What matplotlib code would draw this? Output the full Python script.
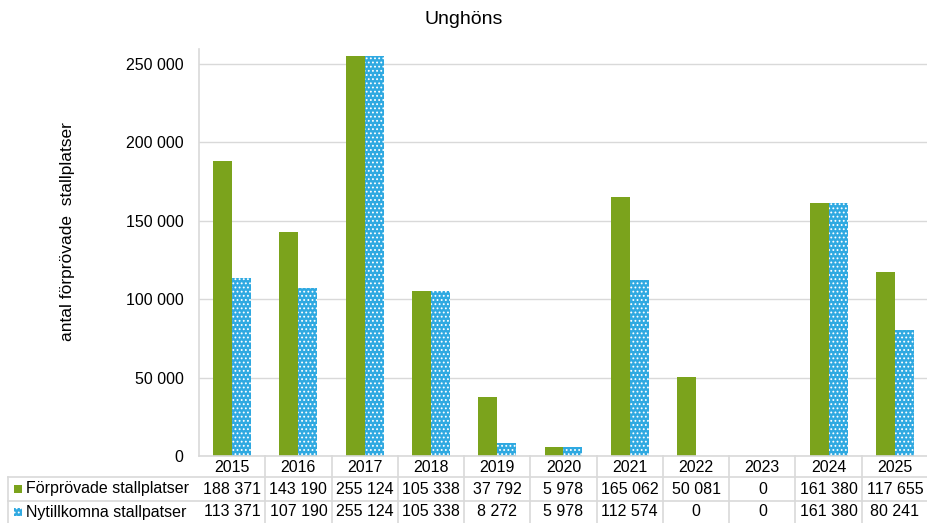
import matplotlib
matplotlib.use("Agg")
from matplotlib import pyplot as plt
from matplotlib import transforms
from matplotlib.patches import Rectangle
import numpy as np

years = ["2015", "2016", "2017", "2018", "2019", "2020",
         "2021", "2022", "2023", "2024", "2025"]
forprovade = [188371, 143190, 255124, 105338, 37792, 5978,
              165062, 50081, 0, 161380, 117655]
nytillkomna = [113371, 107190, 255124, 105338, 8272, 5978,
               112574, 0, 0, 161380, 80241]
series_names = ["Förprövade stallplatser", "Nytillkomna stallpatser"]
yticks = [0, 50000, 100000, 150000, 200000, 250000]

green = "#7BA31C"
blue = "#2FA9E1"
grid_col = "#D9D9D9"
W, H = 928, 523

plt.rcParams["font.family"] = ["Liberation Sans", "DejaVu Sans"]
plt.rcParams["hatch.linewidth"] = 0.8

fig = plt.figure(figsize=(W / 100, H / 100), dpi=100)
ax = fig.add_axes([199 / W, (H - 456) / H, (W - 199) / W, (456 - 49) / H])

x = np.arange(len(years))
bw = 0.286
ax.bar(x - bw / 2, forprovade, bw, color=green, linewidth=0)
ax.bar(x + bw / 2, nytillkomna, bw, facecolor=blue, edgecolor="white",
       hatch="....", linewidth=0)

ax.set_xlim(-0.5, len(years) - 0.5)
ax.set_ylim(0, 259600)
ax.set_yticks(yticks)
ax.set_yticklabels([f"{v:,}".replace(",", " ") for v in yticks], fontsize=11.5)
ax.set_xticks([])
ax.tick_params(axis="y", length=0, pad=11)
ax.grid(axis="y", color=grid_col, linewidth=1)
ax.set_axisbelow(True)
for s in ["top", "right"]:
    ax.spines[s].set_visible(False)
for s in ["left", "bottom"]:
    ax.spines[s].set_color(grid_col)
    ax.spines[s].set_linewidth(1.2)


def fy(p):
    return 1 - p / H


fig.text(68 / W, fy(232), "antal förprövade  stallplatser", rotation=90,
         ha="center", va="center", fontsize=12.5)
fig.text(0.5, fy(20), "Unghöns", ha="center", va="center", fontsize=14)

# data table below the plot
tr = transforms.blended_transform_factory(ax.transData, fig.transFigure)
ftr = fig.transFigure

row_y = [467, 489, 512]
kw = dict(color=grid_col, linewidth=1.2, clip_on=False)
for py in [477, 501]:
    fig.add_artist(plt.Line2D([8 / W, 1], [fy(py), fy(py)], **kw))
fig.add_artist(plt.Line2D([8 / W, 8 / W], [fy(477), 0], **kw))
for i in range(len(years)):
    ax.plot([i + 0.5, i + 0.5], [fy(456), 0], transform=tr, **kw)

for i, yr in enumerate(years):
    ax.text(i, fy(row_y[0]), yr, transform=tr, ha="center", va="center",
            fontsize=11.5)
    for r, vals in enumerate([forprovade, nytillkomna]):
        ax.text(i, fy(row_y[r + 1]), f"{vals[i]:,}".replace(",", " "),
                transform=tr, ha="center", va="center", fontsize=11.5)

for r, name in enumerate(series_names):
    yc = row_y[r + 1]
    fig.text(26 / W, fy(yc), name, ha="left", va="center", fontsize=11.5)
    if r == 0:
        key = Rectangle((14 / W, fy(yc + 4)), 8 / W, 8 / H, transform=ftr,
                        facecolor=green, linewidth=0)
    else:
        key = Rectangle((14 / W, fy(yc + 4)), 8 / W, 8 / H, transform=ftr,
                        facecolor=blue, edgecolor="white", hatch="....",
                        linewidth=0)
    fig.add_artist(key)

fig.savefig("out.png", dpi=100)
